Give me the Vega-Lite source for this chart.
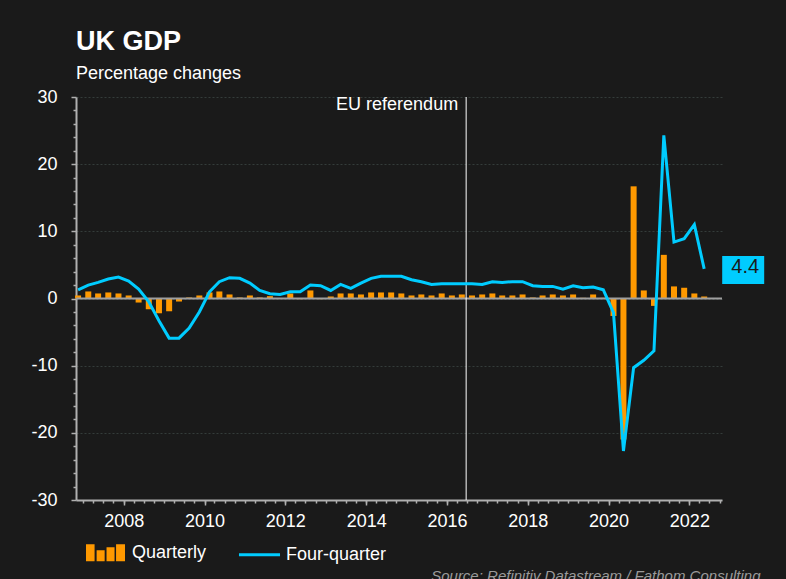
{
  "$schema": "https://vega.github.io/schema/vega-lite/v6.json",
  "width": 646,
  "height": 403,
  "autosize": {"type": "none"},
  "padding": {"left": 76, "top": 97, "right": 64, "bottom": 79},
  "background": "#1a1a1a",
  "config": {
    "view": {"stroke": null},
    "font": "Liberation Sans",
    "axis": {"labelFont": "Liberation Sans", "titleFont": "Liberation Sans"}
  },
  "title": {
    "text": "UK GDP",
    "subtitle": "Percentage changes",
    "anchor": "start",
    "frame": "group",
    "font": "Liberation Sans",
    "fontSize": 27,
    "fontWeight": "bold",
    "color": "#ffffff",
    "subtitleFont": "Liberation Sans",
    "subtitleFontSize": 18,
    "subtitleColor": "#ffffff",
    "subtitlePadding": 9,
    "offset": 4
  },
  "data": {
    "values": [
      {"date": "2006-11-15", "Quarterly": 0.45, "Four-quarter": 1.3},
      {"date": "2007-02-15", "Quarterly": 1.05, "Four-quarter": 2.0},
      {"date": "2007-05-15", "Quarterly": 0.75, "Four-quarter": 2.4},
      {"date": "2007-08-15", "Quarterly": 0.9, "Four-quarter": 2.9},
      {"date": "2007-11-15", "Quarterly": 0.75, "Four-quarter": 3.2},
      {"date": "2008-02-15", "Quarterly": 0.45, "Four-quarter": 2.6},
      {"date": "2008-05-15", "Quarterly": -0.6, "Four-quarter": 1.4},
      {"date": "2008-08-15", "Quarterly": -1.6, "Four-quarter": -0.5},
      {"date": "2008-11-15", "Quarterly": -2.2, "Four-quarter": -3.3},
      {"date": "2009-02-15", "Quarterly": -1.9, "Four-quarter": -5.9},
      {"date": "2009-05-15", "Quarterly": -0.45, "Four-quarter": -5.9},
      {"date": "2009-08-15", "Quarterly": 0.15, "Four-quarter": -4.4},
      {"date": "2009-11-15", "Quarterly": 0.45, "Four-quarter": -2.0},
      {"date": "2010-02-15", "Quarterly": 0.9, "Four-quarter": 1.0},
      {"date": "2010-05-15", "Quarterly": 1.05, "Four-quarter": 2.5},
      {"date": "2010-08-15", "Quarterly": 0.6, "Four-quarter": 3.1},
      {"date": "2010-11-15", "Quarterly": 0.15, "Four-quarter": 3.0},
      {"date": "2011-02-15", "Quarterly": 0.45, "Four-quarter": 2.3},
      {"date": "2011-05-15", "Quarterly": 0.15, "Four-quarter": 1.2},
      {"date": "2011-08-15", "Quarterly": 0.35, "Four-quarter": 0.7},
      {"date": "2011-11-15", "Quarterly": 0.05, "Four-quarter": 0.6},
      {"date": "2012-02-15", "Quarterly": 0.75, "Four-quarter": 1.0},
      {"date": "2012-05-15", "Quarterly": -0.1, "Four-quarter": 1.0},
      {"date": "2012-08-15", "Quarterly": 1.2, "Four-quarter": 2.0},
      {"date": "2012-11-15", "Quarterly": -0.1, "Four-quarter": 1.9},
      {"date": "2013-02-15", "Quarterly": 0.3, "Four-quarter": 1.2},
      {"date": "2013-05-15", "Quarterly": 0.75, "Four-quarter": 2.1},
      {"date": "2013-08-15", "Quarterly": 0.75, "Four-quarter": 1.5},
      {"date": "2013-11-15", "Quarterly": 0.6, "Four-quarter": 2.3},
      {"date": "2014-02-15", "Quarterly": 0.9, "Four-quarter": 3.0},
      {"date": "2014-05-15", "Quarterly": 0.9, "Four-quarter": 3.3},
      {"date": "2014-08-15", "Quarterly": 0.9, "Four-quarter": 3.3},
      {"date": "2014-11-15", "Quarterly": 0.75, "Four-quarter": 3.3},
      {"date": "2015-02-15", "Quarterly": 0.45, "Four-quarter": 2.8},
      {"date": "2015-05-15", "Quarterly": 0.6, "Four-quarter": 2.5},
      {"date": "2015-08-15", "Quarterly": 0.45, "Four-quarter": 2.1},
      {"date": "2015-11-15", "Quarterly": 0.75, "Four-quarter": 2.2},
      {"date": "2016-02-15", "Quarterly": 0.45, "Four-quarter": 2.2},
      {"date": "2016-05-15", "Quarterly": 0.6, "Four-quarter": 2.2},
      {"date": "2016-08-15", "Quarterly": 0.45, "Four-quarter": 2.2},
      {"date": "2016-11-15", "Quarterly": 0.6, "Four-quarter": 2.1},
      {"date": "2017-02-15", "Quarterly": 0.75, "Four-quarter": 2.5},
      {"date": "2017-05-15", "Quarterly": 0.45, "Four-quarter": 2.4},
      {"date": "2017-08-15", "Quarterly": 0.45, "Four-quarter": 2.5},
      {"date": "2017-11-15", "Quarterly": 0.6, "Four-quarter": 2.5},
      {"date": "2018-02-15", "Quarterly": 0.15, "Four-quarter": 1.9},
      {"date": "2018-05-15", "Quarterly": 0.45, "Four-quarter": 1.8},
      {"date": "2018-08-15", "Quarterly": 0.6, "Four-quarter": 1.8},
      {"date": "2018-11-15", "Quarterly": 0.45, "Four-quarter": 1.4},
      {"date": "2019-02-15", "Quarterly": 0.6, "Four-quarter": 1.9},
      {"date": "2019-05-15", "Quarterly": 0.1, "Four-quarter": 1.6},
      {"date": "2019-08-15", "Quarterly": 0.6, "Four-quarter": 1.7},
      {"date": "2019-11-15", "Quarterly": 0.1, "Four-quarter": 1.3},
      {"date": "2020-02-15", "Quarterly": -2.6, "Four-quarter": -2.1},
      {"date": "2020-05-15", "Quarterly": -21.0, "Four-quarter": -22.7},
      {"date": "2020-08-15", "Quarterly": 16.7, "Four-quarter": -10.3},
      {"date": "2020-11-15", "Quarterly": 1.2, "Four-quarter": -9.2},
      {"date": "2021-02-15", "Quarterly": -1.1, "Four-quarter": -7.8},
      {"date": "2021-05-15", "Quarterly": 6.5, "Four-quarter": 24.3},
      {"date": "2021-08-15", "Quarterly": 1.8, "Four-quarter": 8.4},
      {"date": "2021-11-15", "Quarterly": 1.6, "Four-quarter": 8.9},
      {"date": "2022-02-15", "Quarterly": 0.75, "Four-quarter": 11.0},
      {"date": "2022-05-15", "Quarterly": 0.3, "Four-quarter": 4.4}
    ]
  },
  "layer": [
    {
      "transform": [
        {"fold": ["Quarterly", "Four-quarter"], "as": ["series", "value"]},
        {"filter": "datum.series === 'Quarterly'"}
      ],
      "mark": {"type": "bar", "width": 6},
      "encoding": {
        "x": {
          "field": "date",
          "type": "temporal",
          "scale": {"domain": [{"year": 2006, "month": 10, "date": 27}, {"year": 2022, "month": 10, "date": 23}], "nice": false, "padding": 0},
          "axis": {
            "orient": "bottom",
            "values": [{"year": 2008}, {"year": 2010}, {"year": 2012}, {"year": 2014}, {"year": 2016}, {"year": 2018}, {"year": 2020}, {"year": 2022}],
            "format": "%Y",
            "grid": false,
            "domain": true,
            "domainColor": "#b0b0b0",
            "domainWidth": 2,
            "ticks": true,
            "tickColor": "#b0b0b0",
            "tickSize": 5,
            "tickWidth": 1.5,
            "labelColor": "#ffffff",
            "labelFontSize": 18,
            "labelPadding": 7,
            "labelBaseline": "top",
            "labelFlush": false,
            "title": "Source: Refinitiv Datastream / Fathom Consulting",
            "titleFontStyle": "italic",
            "titleFontWeight": "normal",
            "titleFontSize": 15,
            "titleColor": "#9a9a9a",
            "titleAlign": "right",
            "titleAnchor": null,
            "titleX": 684,
            "titleY": 68,
            "titleBaseline": "top"
          }
        },
        "y": {
          "field": "value",
          "type": "quantitative",
          "stack": null,
          "scale": {"domain": [-30, 30], "nice": false, "padding": 0},
          "axis": {
            "orient": "left",
            "values": [-30, -20, -10, 0, 10, 20, 30],
            "labelExpr": "replace(datum.label, '\u2212', '-')",
            "grid": true,
            "gridColor": "#343c3a",
            "gridDash": [2, 2],
            "gridWidth": 1,
            "domain": true,
            "domainColor": "#b0b0b0",
            "domainWidth": 2,
            "ticks": true,
            "tickColor": "#b0b0b0",
            "tickSize": 5,
            "tickWidth": 1.5,
            "labelColor": "#ffffff",
            "labelFontSize": 18,
            "labelPadding": 14,
            "labelFlush": false,
            "title": null
          }
        },
        "color": {
          "field": "series",
          "type": "nominal",
          "scale": {"domain": ["Quarterly", "Four-quarter"], "range": ["#ff9900", "#00ccff"]},
          "legend": {
            "orient": "none",
            "legendX": 10,
            "legendY": 436,
            "direction": "horizontal",
            "title": null,
            "padding": 0,
            "symbolSize": 1296,
            "labelFont": "Liberation Sans",
            "labelFontSize": 18,
            "labelColor": "#ffffff",
            "labelOffset": 7,
            "columnPadding": 25,
            "encode": {
              "symbols": {
                "update": {
                  "shape": {"signal": "datum.value === 'Quarterly' ? 'M-1,0.39H-0.69V-0.39H-1Z M-0.41,0.39H-0.13V-0.06H-0.41Z M0.14,0.39H0.42V-0.22H0.14Z M0.67,0.39H1V-0.39H0.67Z' : 'M-1.14,0H1.14'"},
                  "fill": {"signal": "datum.value === 'Quarterly' ? '#ff9900' : 'transparent'"},
                  "stroke": {"signal": "datum.value === 'Quarterly' ? 'transparent' : '#00ccff'"},
                  "strokeWidth": {"value": 3},
                  "opacity": {"value": 1}
                }
              }
            }
          }
        }
      }
    },
    {
      "data": {"values": [{"level": 0}]},
      "mark": {"type": "rule", "color": "#a0a0a0", "strokeWidth": 2},
      "encoding": {
        "y": {
          "field": "level",
          "type": "quantitative",
          "axis": {
            "orient": "left",
            "values": [-28, -26, -24, -22, -18, -16, -14, -12, -8, -6, -4, -2, 2, 4, 6, 8, 12, 14, 16, 18, 22, 24, 26, 28],
            "labels": false,
            "domain": false,
            "grid": false,
            "ticks": true,
            "tickColor": "#b0b0b0",
            "tickSize": 3,
            "tickWidth": 1.5,
            "title": null
          }
        }
      }
    },
    {
      "data": {"values": [{"event": "EU referendum", "date": "2016-06-23", "top": 30}]},
      "mark": {"type": "rule", "color": "#ffffff", "strokeWidth": 1},
      "encoding": {
        "x": {
          "field": "date",
          "type": "temporal",
          "axis": {
            "orient": "bottom",
            "tickCount": {"interval": "month", "step": 3},
            "labels": false,
            "domain": false,
            "grid": false,
            "ticks": true,
            "tickColor": "#b0b0b0",
            "tickSize": 3,
            "tickWidth": 1.5,
            "title": null
          }
        }
      }
    },
    {
      "transform": [
        {"fold": ["Quarterly", "Four-quarter"], "as": ["series", "value"]},
        {"filter": "datum.series === 'Four-quarter'"}
      ],
      "mark": {"type": "line", "strokeWidth": 3, "strokeJoin": "miter"},
      "encoding": {
        "x": {"field": "date", "type": "temporal", "axis": null},
        "y": {"field": "value", "type": "quantitative", "axis": null},
        "color": {"field": "series", "type": "nominal", "legend": null}
      }
    },
    {
      "data": {"values": [{"event": "EU referendum", "date": "2016-06-23", "top": 30}]},
      "mark": {"type": "text", "align": "right", "baseline": "top", "dx": -8, "dy": -1, "font": "Liberation Sans", "fontSize": 18, "color": "#ffffff"},
      "encoding": {
        "x": {"field": "date", "type": "temporal", "axis": null},
        "y": {"field": "top", "type": "quantitative", "axis": null},
        "text": {"field": "event", "type": "nominal"}
      }
    },
    {
      "transform": [{"filter": {"field": "Four-quarter", "equal": 4.4}}],
      "mark": {"type": "rect", "width": 42, "height": 28, "xOffset": 39, "yOffset": 1, "color": "#00ccff"},
      "encoding": {
        "x": {"field": "date", "type": "temporal", "axis": null},
        "y": {"field": "Four-quarter", "type": "quantitative", "axis": null}
      }
    },
    {
      "transform": [{"filter": {"field": "Four-quarter", "equal": 4.4}}],
      "mark": {"type": "text", "align": "center", "baseline": "alphabetic", "dx": 41, "dy": 4, "font": "Liberation Sans", "fontSize": 20, "color": "#1a1a1a"},
      "encoding": {
        "x": {"field": "date", "type": "temporal", "axis": null},
        "y": {"field": "Four-quarter", "type": "quantitative", "axis": null},
        "text": {"field": "Four-quarter", "type": "quantitative", "format": ".1f"}
      }
    }
  ],
  "resolve": {"axis": {"x": "independent", "y": "independent"}}
}
